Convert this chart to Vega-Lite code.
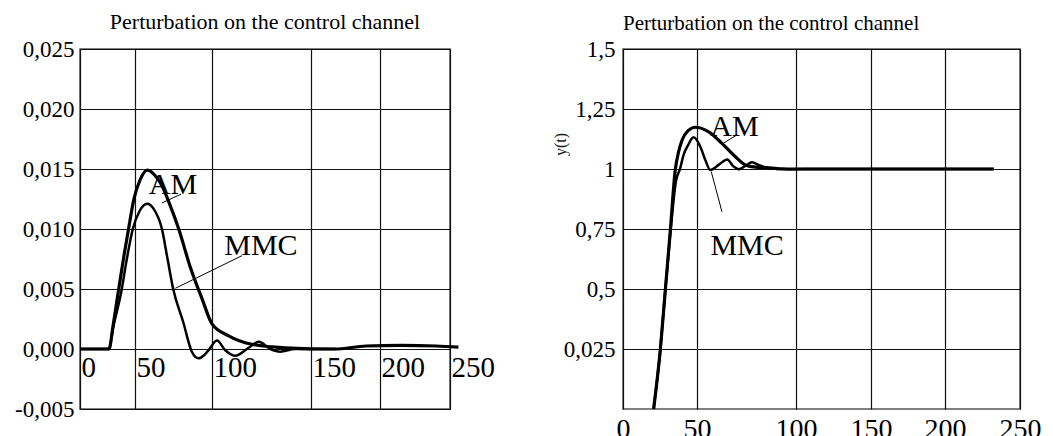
{
  "$schema": "https://vega.github.io/schema/vega-lite/v6.json",
  "background": "white",
  "padding": {"left": 13, "top": 10, "right": 5, "bottom": 5},
  "spacing": 173,
  "bounds": "flush",
  "config": {
    "view": {"stroke": "#555", "strokeWidth": 1.5},
    "axis": {"gridColor": "#111", "gridWidth": 1.2, "gridOpacity": 1, "labelFont": "Liberation Serif", "labelColor": "#000", "ticks": false, "domain": false, "labelFlush": false, "labelOverlap": false},
    "title": {"font": "Liberation Serif", "fontWeight": "normal", "color": "#000"}
  },
  "datasets": {
    "leftCurves": [
      {"s": "AM", "t": 0, "v": 0}, {"s": "AM", "t": 26.4, "v": 0}, {"s": "AM", "t": 30, "v": 0.0019}, {"s": "AM", "t": 35.2, "v": 0.005},
      {"s": "AM", "t": 40, "v": 0.0078}, {"s": "AM", "t": 44.5, "v": 0.0102}, {"s": "AM", "t": 49, "v": 0.0125}, {"s": "AM", "t": 53, "v": 0.014},
      {"s": "AM", "t": 58, "v": 0.0149}, {"s": "AM", "t": 62, "v": 0.0146}, {"s": "AM", "t": 67.5, "v": 0.0136}, {"s": "AM", "t": 73, "v": 0.0119},
      {"s": "AM", "t": 78.4, "v": 0.01}, {"s": "AM", "t": 85.7, "v": 0.0069}, {"s": "AM", "t": 93.5, "v": 0.0042}, {"s": "AM", "t": 100, "v": 0.0021},
      {"s": "AM", "t": 108.4, "v": 0.0011}, {"s": "AM", "t": 120, "v": 0.0004}, {"s": "AM", "t": 137, "v": 0.0001}, {"s": "AM", "t": 167, "v": 0},
      {"s": "AM", "t": 190, "v": 0.00025}, {"s": "AM", "t": 215, "v": 0.0003}, {"s": "AM", "t": 240, "v": 0.00025}, {"s": "AM", "t": 256, "v": 0.00015},
      {"s": "MMC", "t": 0, "v": 0}, {"s": "MMC", "t": 26.4, "v": 0}, {"s": "MMC", "t": 30, "v": 0.0017}, {"s": "MMC", "t": 38, "v": 0.005},
      {"s": "MMC", "t": 42, "v": 0.0072}, {"s": "MMC", "t": 48, "v": 0.01}, {"s": "MMC", "t": 53, "v": 0.0115}, {"s": "MMC", "t": 57.8, "v": 0.0121},
      {"s": "MMC", "t": 62, "v": 0.0117}, {"s": "MMC", "t": 67.5, "v": 0.01}, {"s": "MMC", "t": 71, "v": 0.0076}, {"s": "MMC", "t": 74.8, "v": 0.005},
      {"s": "MMC", "t": 81.3, "v": 0.00225}, {"s": "MMC", "t": 87, "v": -0.00025}, {"s": "MMC", "t": 91.3, "v": -0.00078}, {"s": "MMC", "t": 95, "v": -0.0005},
      {"s": "MMC", "t": 97.8, "v": -0.0001}, {"s": "MMC", "t": 102.5, "v": 0.0007}, {"s": "MMC", "t": 106.7, "v": -0.0001}, {"s": "MMC", "t": 111.8, "v": -0.00056},
      {"s": "MMC", "t": 118.5, "v": 0.0001}, {"s": "MMC", "t": 123.6, "v": 0.0006}, {"s": "MMC", "t": 129.5, "v": 0}, {"s": "MMC", "t": 134.5, "v": -0.00022},
      {"s": "MMC", "t": 142, "v": 0}, {"s": "MMC", "t": 168, "v": 0}
    ],
    "leftLeaders": [
      {"t": 67.5, "v": 0.01217, "t2": 79.9, "v2": 0.0129},
      {"t": 76.2, "v": 0.00506, "t2": 115.2, "v2": 0.00778}
    ],
    "leftLabels": [
      {"label": "AM", "t": 74.7, "v": 0.01367},
      {"label": "MMC", "t": 124.7, "v": 0.00861}
    ],
    "rightCurves": [
      {"s": "AM", "t": 20.7, "v": 0}, {"s": "AM", "t": 25.2, "v": 0.246}, {"s": "AM", "t": 28.6, "v": 0.496}, {"s": "AM", "t": 32, "v": 0.746},
      {"s": "AM", "t": 35.3, "v": 0.996}, {"s": "AM", "t": 37.5, "v": 1.07}, {"s": "AM", "t": 39.9, "v": 1.12}, {"s": "AM", "t": 44, "v": 1.16},
      {"s": "AM", "t": 48.9, "v": 1.174}, {"s": "AM", "t": 55.9, "v": 1.155}, {"s": "AM", "t": 62.6, "v": 1.107}, {"s": "AM", "t": 69.4, "v": 1.051},
      {"s": "AM", "t": 74.4, "v": 1.017}, {"s": "AM", "t": 79.5, "v": 1.008}, {"s": "AM", "t": 85, "v": 1.006}, {"s": "AM", "t": 92, "v": 1.001},
      {"s": "AM", "t": 100, "v": 1.0}, {"s": "AM", "t": 150, "v": 1.0}, {"s": "AM", "t": 232.5, "v": 1.0},
      {"s": "MMC", "t": 20.7, "v": 0}, {"s": "MMC", "t": 25.2, "v": 0.246}, {"s": "MMC", "t": 28.6, "v": 0.496}, {"s": "MMC", "t": 32.2, "v": 0.746},
      {"s": "MMC", "t": 35.8, "v": 0.95}, {"s": "MMC", "t": 38.5, "v": 1.0}, {"s": "MMC", "t": 41, "v": 1.06}, {"s": "MMC", "t": 44, "v": 1.1},
      {"s": "MMC", "t": 47.7, "v": 1.132}, {"s": "MMC", "t": 51.7, "v": 1.093}, {"s": "MMC", "t": 54.2, "v": 1.0375}, {"s": "MMC", "t": 56.7, "v": 0.996},
      {"s": "MMC", "t": 60.9, "v": 1.017}, {"s": "MMC", "t": 65.2, "v": 1.04}, {"s": "MMC", "t": 68.5, "v": 1.01}, {"s": "MMC", "t": 71.1, "v": 0.999},
      {"s": "MMC", "t": 74.4, "v": 1.0125}, {"s": "MMC", "t": 77.8, "v": 1.028}, {"s": "MMC", "t": 81.1, "v": 1.017}, {"s": "MMC", "t": 86.1, "v": 1.003},
      {"s": "MMC", "t": 96.2, "v": 0.999}, {"s": "MMC", "t": 120, "v": 1.0}, {"s": "MMC", "t": 232.5, "v": 1.0}
    ],
    "rightLeaders": [
      {"t": 62.6, "v": 1.104, "t2": 70.2, "v2": 1.142},
      {"t": 57.2, "v": 0.989, "t2": 62.6, "v2": 0.822}
    ],
    "rightLabels": [
      {"label": "AM", "t": 68.9, "v": 1.176},
      {"label": "MMC", "t": 75.3, "v": 0.68}
    ]
  },
  "hconcat": [
    {
      "width": 370,
      "height": 360,
      "title": {"text": "Perturbation on the control channel", "anchor": "middle", "frame": "group", "baseline": "alphabetic", "offset": -13, "fontSize": 22},
      "layer": [
        {
          "data": {"name": "leftCurves"},
          "mark": {"type": "line", "interpolate": "monotone", "color": "#000"},
          "encoding": {
            "x": {"field": "t", "type": "quantitative",
              "scale": {"domain": [0, 50, 100, 150, 200, 250], "range": [0, 55, 132, 231, 300, 370], "nice": false, "zero": false},
              "axis": {"values": [0, 50, 100, 150, 200, 250], "title": null, "labelAlign": "left", "labelBaseline": "top", "labelPadding": -56, "labelFontSize": 29, "labelOffset": 1, "grid": true}},
            "y": {"field": "v", "type": "quantitative",
              "scale": {"domain": [-0.005, 0.025], "nice": false, "zero": false},
              "axis": {"values": [-0.005, 0, 0.005, 0.01, 0.015, 0.02, 0.025], "title": null, "labelFontSize": 23, "labelPadding": 6,
                "labelExpr": "datum.value < 0 ? '-0,005' : replace(format(datum.value, '.3f'), '.', ',')", "grid": true}},
            "detail": {"field": "s"},
            "strokeWidth": {"field": "s", "type": "nominal", "scale": {"domain": ["AM", "MMC"], "range": [3.2, 2.5]}, "legend": null}
          }
        },
        {
          "data": {"name": "leftLeaders"},
          "mark": {"type": "rule", "color": "#000", "strokeWidth": 1},
          "encoding": {
            "x": {"field": "t", "type": "quantitative"},
            "y": {"field": "v", "type": "quantitative"},
            "x2": {"field": "t2"},
            "y2": {"field": "v2"}
          }
        },
        {
          "data": {"name": "leftLabels"},
          "mark": {"type": "text", "font": "Liberation Serif", "fontSize": 30, "color": "#000"},
          "encoding": {
            "x": {"field": "t", "type": "quantitative"},
            "y": {"field": "v", "type": "quantitative"},
            "text": {"field": "label"}
          }
        }
      ]
    },
    {
      "width": 397,
      "height": 360,
      "title": {"text": "Perturbation on the control channel", "anchor": "start", "frame": "group", "baseline": "alphabetic", "offset": -13, "fontSize": 21},
      "layer": [
        {
          "data": {"name": "rightCurves"},
          "mark": {"type": "line", "interpolate": "monotone", "color": "#000"},
          "encoding": {
            "x": {"field": "t", "type": "quantitative",
              "scale": {"domain": [0, 50, 100, 150, 200, 250], "range": [0, 74, 173, 248, 322, 397], "nice": false, "zero": false},
              "axis": {"values": [0, 50, 100, 150, 200, 250], "title": null, "labelAlign": "center", "labelBaseline": "top", "labelPadding": 6, "labelFontSize": 28, "grid": true}},
            "y": {"field": "v", "type": "quantitative",
              "scale": {"domain": [0, 1.5], "nice": false, "zero": false},
              "axis": {"values": [0.25, 0.5, 0.75, 1, 1.25, 1.5], "labelFontSize": 23, "labelPadding": 8,
                "labelExpr": "datum.value == 0.25 ? '0,025' : replace(toString(datum.value), '.', ',')", "grid": true,
                "title": "y(t)", "titleX": -63, "titleY": 95, "titleAngle": -90, "titleAlign": "center", "titleBaseline": "middle",
                "titleFont": "Liberation Serif", "titleFontSize": 16, "titleFontWeight": "normal", "titleColor": "#1a1a1a"}},
            "detail": {"field": "s"},
            "strokeWidth": {"field": "s", "type": "nominal", "scale": {"domain": ["AM", "MMC"], "range": [3.6, 2.6]}, "legend": null}
          }
        },
        {
          "data": {"name": "rightLeaders"},
          "mark": {"type": "rule", "color": "#000", "strokeWidth": 1},
          "encoding": {
            "x": {"field": "t", "type": "quantitative"},
            "y": {"field": "v", "type": "quantitative"},
            "x2": {"field": "t2"},
            "y2": {"field": "v2"}
          }
        },
        {
          "data": {"name": "rightLabels"},
          "mark": {"type": "text", "font": "Liberation Serif", "fontSize": 30, "color": "#000"},
          "encoding": {
            "x": {"field": "t", "type": "quantitative"},
            "y": {"field": "v", "type": "quantitative"},
            "text": {"field": "label"}
          }
        }
      ]
    }
  ]
}
